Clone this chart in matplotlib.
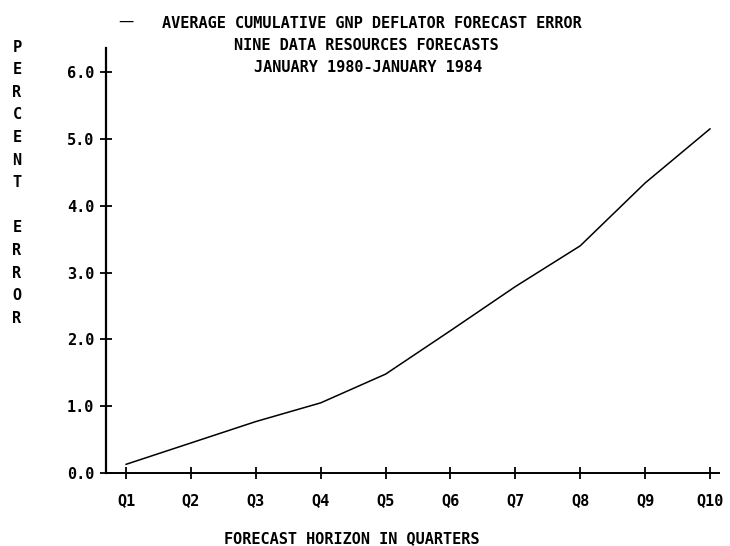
import matplotlib.pyplot as plt
import numpy as np

# data
quarters = ['Q1', 'Q2', 'Q3', 'Q4', 'Q5', 'Q6', 'Q7', 'Q8', 'Q9', 'Q10']
avg_error = [0.13, 0.45, 0.77, 1.05, 1.48, 2.13, 2.79, 3.40, 4.34, 5.15]
y_ticks = [0.0, 1.0, 2.0, 3.0, 4.0, 5.0, 6.0]
title_lines = ['AVERAGE CUMULATIVE GNP DEFLATOR FORECAST ERROR',
               'NINE DATA RESOURCES FORECASTS',
               'JANUARY 1980-JANUARY 1984']

font = dict(family='DejaVu Sans Mono', fontweight='bold', fontsize=11)

fig = plt.figure(figsize=(7.3, 5.46), dpi=100)
ax = fig.add_axes([0.1452, 0.1337, 0.985 - 0.1452, 0.912 - 0.1337])

x = np.arange(1, len(quarters) + 1)
ax.plot(x, avg_error, c='black', linewidth=1.1)

ax.set_xlim(0.69, 10.14)
ax.set_ylim(0, 6.36)
ax.spines['top'].set_visible(False)
ax.spines['right'].set_visible(False)
ax.spines['left'].set_linewidth(1.6)
ax.spines['bottom'].set_linewidth(1.4)

ax.set_xticks(x)
ax.set_xticklabels(quarters, **font)
ax.set_yticks(y_ticks)
ax.set_yticklabels(['%.1f' % v for v in y_ticks], **font)
ax.tick_params(axis='both', direction='inout', length=9, width=1.3, colors='black')
ax.tick_params(axis='x', pad=10)
ax.tick_params(axis='y', pad=4)

# title block with the line-style key
fig.text(126 / 730, 1 - 21 / 546, '\u2014', ha='center', va='center',
         family='DejaVu Sans', fontsize=11)
for i, line in enumerate(title_lines):
    cx = [372, 366, 368][i] / 730
    cy = 1 - (23 + 22 * i) / 546
    fig.text(cx, cy, line, ha='center', va='center', **font)

# vertical stacked y label
ylab = 'PERCENT ERROR'
for i, ch in enumerate(ylab):
    if ch == ' ':
        continue
    fig.text(17 / 730, 1 - (47 + 22.6 * i) / 546, ch, ha='center', va='center', **font)

fig.text(352 / 730, 1 - 539 / 546, 'FORECAST HORIZON IN QUARTERS', ha='center', va='center', **font)

fig.savefig('out.png', dpi=100)
